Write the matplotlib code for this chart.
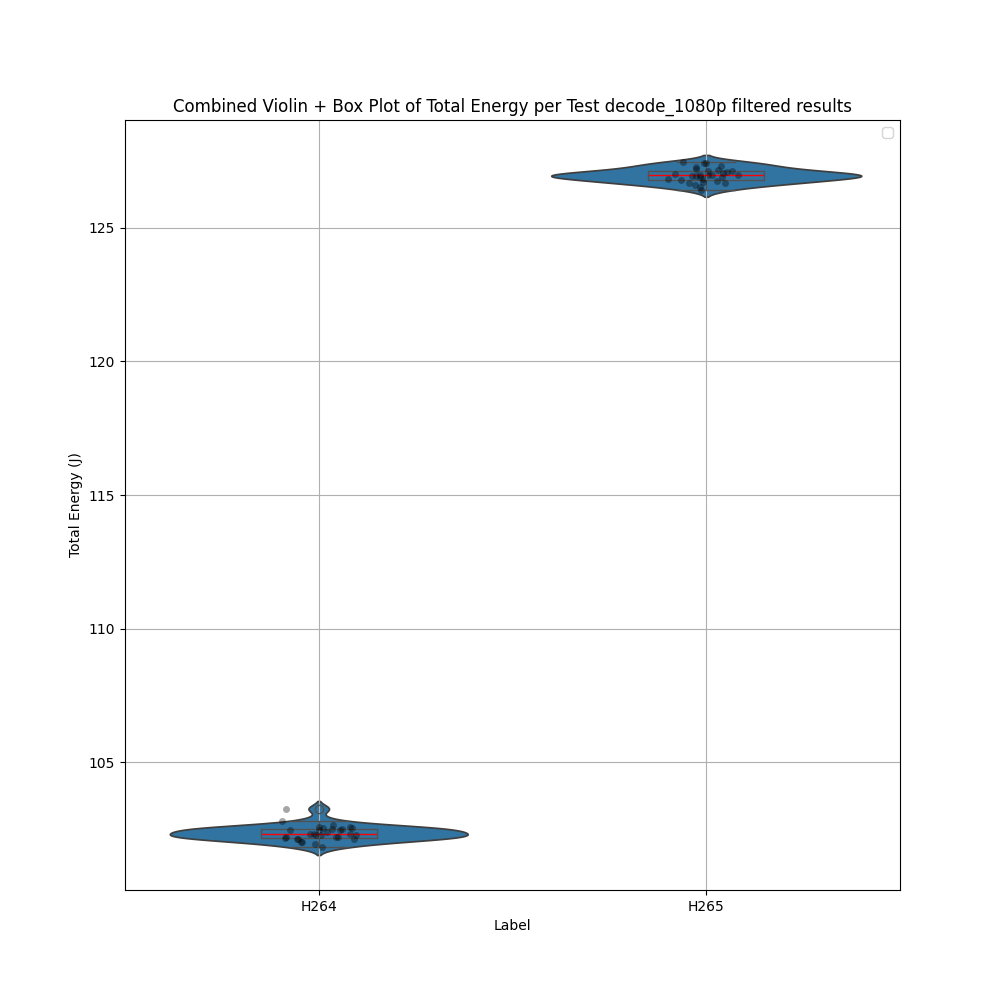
import numpy as np
import pandas as pd
import matplotlib
matplotlib.use("Agg")
import matplotlib.pyplot as plt
import seaborn as sns

labels = ["H264", "H265"]

# total energy per run (J)
h264_energy = [103.27, 102.49, 102.34, 102.21, 102.27, 101.83, 102.58, 102.21,
               102.02, 102.46, 102.67, 102.52, 102.34, 102.17, 102.02, 102.34,
               102.14, 101.95, 102.55, 102.83, 102.39, 102.14, 102.14, 102.55,
               102.60, 102.49, 102.27, 102.21, 102.50, 102.30]
h265_energy = [127.45, 127.40, 127.27, 127.40, 127.20, 127.11, 127.07, 126.92,
               126.95, 126.67, 126.82, 126.61, 127.15, 126.92, 126.71, 127.05,
               126.90, 126.95, 126.77, 126.65, 126.52, 126.42, 126.74, 127.11,
               126.95, 126.82, 127.00, 126.88, 126.97, 127.30]

df = pd.DataFrame({
    "Label": ["H264"] * len(h264_energy) + ["H265"] * len(h265_energy),
    "Total Energy (J)": h264_energy + h265_energy,
})

np.random.seed(7)
fig, ax = plt.subplots(figsize=(10, 10), dpi=100)

sns.violinplot(data=df, x="Label", y="Total Energy (J)", order=labels,
               inner=None, ax=ax)
sns.boxplot(data=df, x="Label", y="Total Energy (J)", order=labels,
            width=0.3, ax=ax,
            boxprops={"facecolor": "none", "zorder": 3},
            medianprops={"color": "red"},
            flierprops={"marker": "o", "markerfacecolor": "none"})
sns.stripplot(data=df, x="Label", y="Total Energy (J)", order=labels,
              color="black", alpha=0.35, jitter=0.1, size=5, ax=ax)

ax.set_title("Combined Violin + Box Plot of Total Energy per Test decode_1080p filtered results")
ax.set_xlabel("Label")
ax.set_ylabel("Total Energy (J)")
ax.grid(True)
ax.legend()

fig.savefig("out.png")
